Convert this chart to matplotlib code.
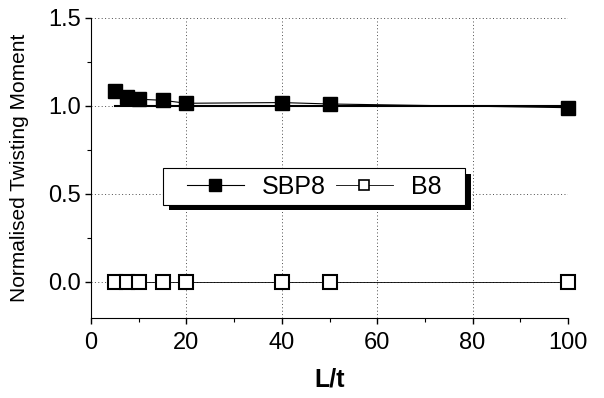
import matplotlib
matplotlib.use("Agg")
import matplotlib.pyplot as plt
import matplotlib.patheffects as pe
from matplotlib.patches import Rectangle
from matplotlib.ticker import MultipleLocator, FormatStrFormatter

plt.rcParams['font.family'] = ['Liberation Sans', 'DejaVu Sans']

# datos
lt = [5, 7.5, 10, 15, 20, 40, 50, 100]
sbp8 = [1.085, 1.05, 1.038, 1.032, 1.015, 1.019, 1.011, 0.99]
b8 = [0, 0, 0, 0, 0, 0, 0, 0]
ref_x = [5, 100]
ref_y = [1.0, 1.0]

fig = plt.figure(figsize=(6.04, 3.98), dpi=100)
ax = fig.add_axes([0.1507, 0.201, 0.7897, 0.754])

# lineas de rejilla punteadas
ax.grid(True, which='major', linestyle=(0, (1, 2.5)), color='0.3', linewidth=0.7)
ax.set_axisbelow(True)

ax.plot(ref_x, ref_y, color='k', linewidth=1.5, zorder=3, clip_on=False)
ax.plot(lt, sbp8, color='k', linewidth=0.8, marker='s', markersize=10,
        markerfacecolor='k', markeredgecolor='k', label='SBP8', zorder=4,
        clip_on=False)
ax.plot(lt, b8, color='k', linewidth=0.6, marker='s', markersize=9.5,
        markerfacecolor='white', markeredgecolor='k', markeredgewidth=1.5,
        label='B8', zorder=4, clip_on=False)

ax.set_xlim(0, 100)
ax.set_ylim(-0.205, 1.5)
ax.xaxis.set_major_locator(MultipleLocator(20))
ax.xaxis.set_minor_locator(MultipleLocator(10))
ax.yaxis.set_major_locator(MultipleLocator(0.5))
ax.yaxis.set_minor_locator(MultipleLocator(0.25))
ax.yaxis.set_major_formatter(FormatStrFormatter('%.1f'))

for s in ['top', 'right']:
    ax.spines[s].set_visible(False)
ax.tick_params(which='major', direction='out', length=4, width=1, labelsize=17, pad=3)
ax.tick_params(axis='x', which='major', pad=6)
ax.tick_params(which='minor', direction='out', length=3, width=0.8)

ax.set_xlabel('L/t', fontsize=18, fontweight='bold', labelpad=10)
ax.set_ylabel('Normalised Twisting Moment', fontsize=15, labelpad=14)

# caja de la leyenda con sombra negra
caja = Rectangle((0.151, 0.377), 0.633, 0.123, transform=ax.transAxes,
                 facecolor='white', edgecolor='k', linewidth=0.8, zorder=4.5)
caja.set_path_effects([pe.SimplePatchShadow(offset=(4, -4), shadow_rgbFace='k', alpha=1),
                       pe.Normal()])
ax.add_patch(caja)

leg = ax.legend(loc='center', bbox_to_anchor=(0.4675, 0.438), ncol=2,
                fontsize=18, frameon=False, handlelength=2.3,
                columnspacing=0.4, handletextpad=0.7, borderpad=0.2)
leg.legend_handles[0].set_markersize(8)
leg.legend_handles[1].set_markersize(7)
leg.legend_handles[1].set_markeredgewidth(1.2)
leg.set_zorder(5)

fig.savefig('out.png', dpi=100)
